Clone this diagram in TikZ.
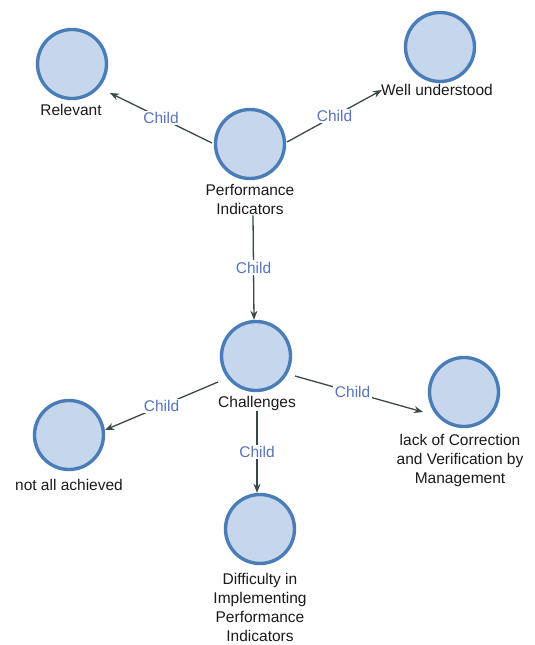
\documentclass[tikz,border=0pt]{standalone}
\usepackage{fontspec}
\setmainfont{Liberation Sans}
\usetikzlibrary{arrows.meta}
\definecolor{circfill}{HTML}{C6D6EC}
\definecolor{circline}{HTML}{4A7DB8}
\definecolor{edgecol}{HTML}{3A4848}
\definecolor{childcol}{HTML}{5774B8}
\definecolor{textcol}{HTML}{1A1A1A}
\begin{document}
\begin{tikzpicture}[x=1pt,y=-1pt,
  topic/.style={circle,draw=circline,fill=circfill,line width=3.4pt,minimum size=69pt,inner sep=0pt},
  caption/.style={font=\fontsize{15.5}{19}\selectfont,text=textcol,align=center,inner sep=1pt},
  link/.style={draw=edgecol,line width=1.3pt,-{Stealth[length=9pt,width=7pt]}},
  rel/.style={font=\fontsize{15.5}{19}\selectfont,text=childcol,fill=white,inner sep=1.5pt}]
\useasboundingbox (0,0) rectangle (535,645);

% topic circles
\node[topic] (rel)  at (72,64)   {};
\node[topic] (wu)   at (440,47)  {};
\node[topic] (pi)   at (250,144) {};
\node[topic] (ch)   at (256,356) {};
\node[topic] (lack) at (464,392) {};
\node[topic] (naa)  at (69,435)  {};
\node[topic] (dif)  at (260,529) {};

% captions
\node[caption] (rell)  at (71,110)  {Relevant};
\node[caption] (wul)   at (437,90)  {Well understood};
\node[caption] (pil)   at (250,199) {Performance\\Indicators};
\node[caption] (chl)   at (257,403) {Challenges};
\node[caption] (lackl) at (460,460) {lack of Correction\\and Verification by\\Management};
\node[caption] (naal)  at (69,485)  {not all achieved};
\node[caption] (difl)  at (260,607) {Difficulty in\\Implementing\\Performance\\Indicators};

% child links
\draw[link] ([shift={(-38,-1)}]pi.center) -- node[rel] {Child} ([shift={(38,29)}]rel.center);
\draw[link] ([shift={(37,-2)}]pi.center) -- node[rel] {Child} ([xshift=2pt]wul.west);
\draw[link] ([xshift=3pt]pil.south) -- node[rel] {Child} ([xshift=-2pt]ch.north);
\draw[link] ([shift={(-38,26)}]ch.center) -- node[rel] {Child} ([shift={(36,-5)}]naa.center);
\draw[link] ([shift={(39,20)}]ch.center) -- node[rel,pos=0.45] {Child} ([shift={(-41,20)}]lack.center);
\draw[link] (chl.south) -- node[rel] {Child} ([xshift=-3pt]dif.north);
\end{tikzpicture}
\end{document}
